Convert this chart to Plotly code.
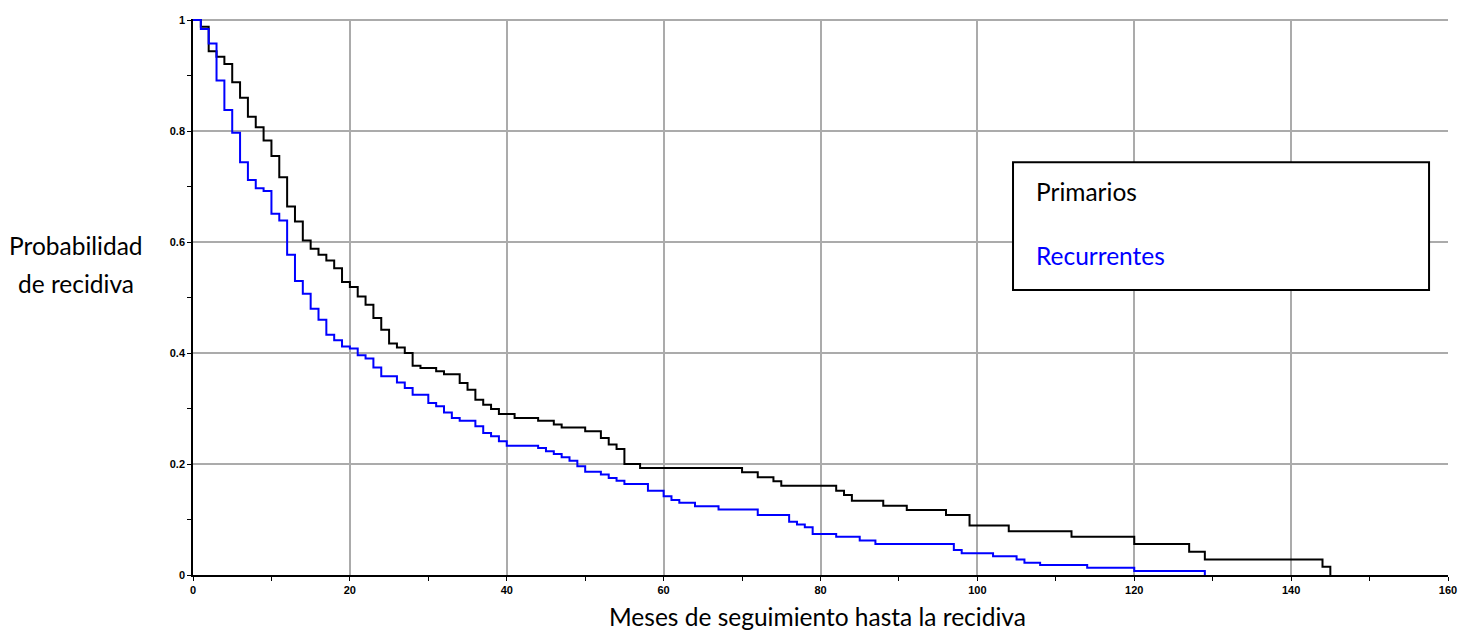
import plotly.graph_objects as go

# Primarios (black)
prim_t = [0, 1, 2, 3, 4, 5, 6, 7, 8, 9, 10, 11, 12, 13, 14, 15, 16, 17, 18, 19,
          20, 21, 22, 23, 24, 25, 26, 27, 28, 29, 31, 32, 34, 35, 36, 37, 38, 39,
          41, 44, 46, 47, 50, 52, 53, 54, 55, 57, 70, 72, 74, 75, 82, 83, 84, 88,
          91, 96, 99, 104, 112, 120, 127, 129, 144, 145]
prim_s = [1.0, 0.988, 0.944, 0.934, 0.921, 0.888, 0.860, 0.826, 0.807, 0.783,
          0.755, 0.717, 0.664, 0.637, 0.603, 0.588, 0.577, 0.567, 0.553, 0.528,
          0.519, 0.502, 0.487, 0.463, 0.442, 0.417, 0.410, 0.400, 0.377, 0.373,
          0.367, 0.362, 0.346, 0.334, 0.316, 0.307, 0.299, 0.290, 0.283, 0.278,
          0.271, 0.266, 0.259, 0.247, 0.235, 0.227, 0.200, 0.193, 0.185, 0.176,
          0.169, 0.161, 0.152, 0.144, 0.134, 0.125, 0.117, 0.108, 0.089, 0.079,
          0.069, 0.056, 0.042, 0.028, 0.015, 0.0]

# Recurrentes (blue)
rec_t = [0, 1, 2, 3, 4, 5, 6, 7, 8, 9, 10, 11, 12, 13, 14, 15, 16, 17, 18, 19,
         20, 21, 22, 23, 24, 26, 27, 28, 30, 31, 32, 33, 34, 36, 37, 38, 39, 40,
         44, 45, 46, 47, 48, 49, 50, 52, 53, 54, 55, 58, 60, 61, 62, 64, 67, 72,
         76, 77, 78, 79, 82, 85, 87, 97, 98, 102, 105, 106, 108, 114, 120, 129]
rec_s = [1.0, 0.984, 0.958, 0.891, 0.838, 0.797, 0.744, 0.712, 0.697, 0.692,
         0.651, 0.639, 0.577, 0.530, 0.507, 0.480, 0.460, 0.433, 0.423, 0.412,
         0.408, 0.396, 0.390, 0.374, 0.358, 0.347, 0.337, 0.325, 0.310, 0.304,
         0.293, 0.283, 0.278, 0.268, 0.256, 0.250, 0.241, 0.233, 0.229, 0.223,
         0.218, 0.212, 0.206, 0.196, 0.186, 0.181, 0.175, 0.170, 0.164, 0.152,
         0.142, 0.135, 0.130, 0.124, 0.118, 0.108, 0.096, 0.091, 0.086, 0.074,
         0.069, 0.062, 0.056, 0.045, 0.039, 0.034, 0.028, 0.022, 0.018, 0.013,
         0.007, 0.0]

x_ticks = [0, 20, 40, 60, 80, 100, 120, 140, 160]
y_ticks = [0, 0.2, 0.4, 0.6, 0.8, 1.0]
y_ticktext = ["0", "0.2", "0.4", "0.6", "0.8", "1"]

fig = go.Figure()
fig.add_trace(go.Scatter(x=prim_t, y=prim_s, mode="lines", line_shape="hv",
                         name="Primarios", line=dict(color="black", width=2)))
fig.add_trace(go.Scatter(x=rec_t, y=rec_s, mode="lines", line_shape="hv",
                         name="Recurrentes", line=dict(color="#0000ff", width=2)))

tickfont = dict(family="Liberation Sans Narrow, Liberation Sans, Arial", size=11,
                color="black", weight="bold")

fig.update_layout(
    width=1463, height=623,
    margin=dict(l=185, r=23, t=11, b=56),
    paper_bgcolor="white", plot_bgcolor="white",
    showlegend=False,
    xaxis=dict(range=[0, 160], tickvals=x_ticks, ticks="outside", ticklen=4,
               tickcolor="black", showline=True, linecolor="black", linewidth=1.5,
               showgrid=True, gridcolor="#ababab", gridwidth=1.5, zeroline=False,
               tickfont=tickfont, automargin=False,
               minor=dict(dtick=10, tick0=0, ticks="outside", ticklen=4,
                          tickcolor="black", showgrid=False)),
    yaxis=dict(range=[0, 1.002], tickvals=y_ticks, ticktext=y_ticktext,
               ticks="outside", ticklen=4, tickcolor="black",
               showline=True, linecolor="black", linewidth=1.5,
               showgrid=True, gridcolor="#ababab", gridwidth=1.5, zeroline=False,
               tickfont=tickfont, automargin=False,
               minor=dict(dtick=0.1, tick0=0, ticks="outside", ticklen=4,
                          tickcolor="black", showgrid=False)),
)

fig.add_shape(type="rect", xref="paper", yref="paper",
              x0=0.6534, x1=0.9849, y0=0.5126, y1=0.7423,
              line=dict(color="black", width=2), fillcolor="white", layer="above")

tfont = dict(family="Lato, Open Sans, sans-serif", size=24.5, color="black")
fig.add_annotation(text="Primarios", xref="paper", yref="paper", x=0.6701, y=0.6906,
                   xanchor="left", yanchor="middle", showarrow=False, font=tfont)
fig.add_annotation(text="Recurrentes", xref="paper", yref="paper", x=0.6701, y=0.5755,
                   xanchor="left", yanchor="middle", showarrow=False,
                   font=dict(tfont, color="#0000ff"))
fig.add_annotation(text="Probabilidad", xref="paper", yref="paper", x=-0.0932, y=0.5935,
                   xanchor="center", yanchor="middle", showarrow=False, font=tfont)
fig.add_annotation(text="de recidiva", xref="paper", yref="paper", x=-0.0932, y=0.525,
                   xanchor="center", yanchor="middle", showarrow=False, font=tfont)
fig.add_annotation(text="Meses de seguimiento hasta la recidiva", xref="paper", yref="paper",
                   x=0.498, y=-0.0755, xanchor="center", yanchor="middle",
                   showarrow=False, font=tfont)

fig.write_html("out.html")
